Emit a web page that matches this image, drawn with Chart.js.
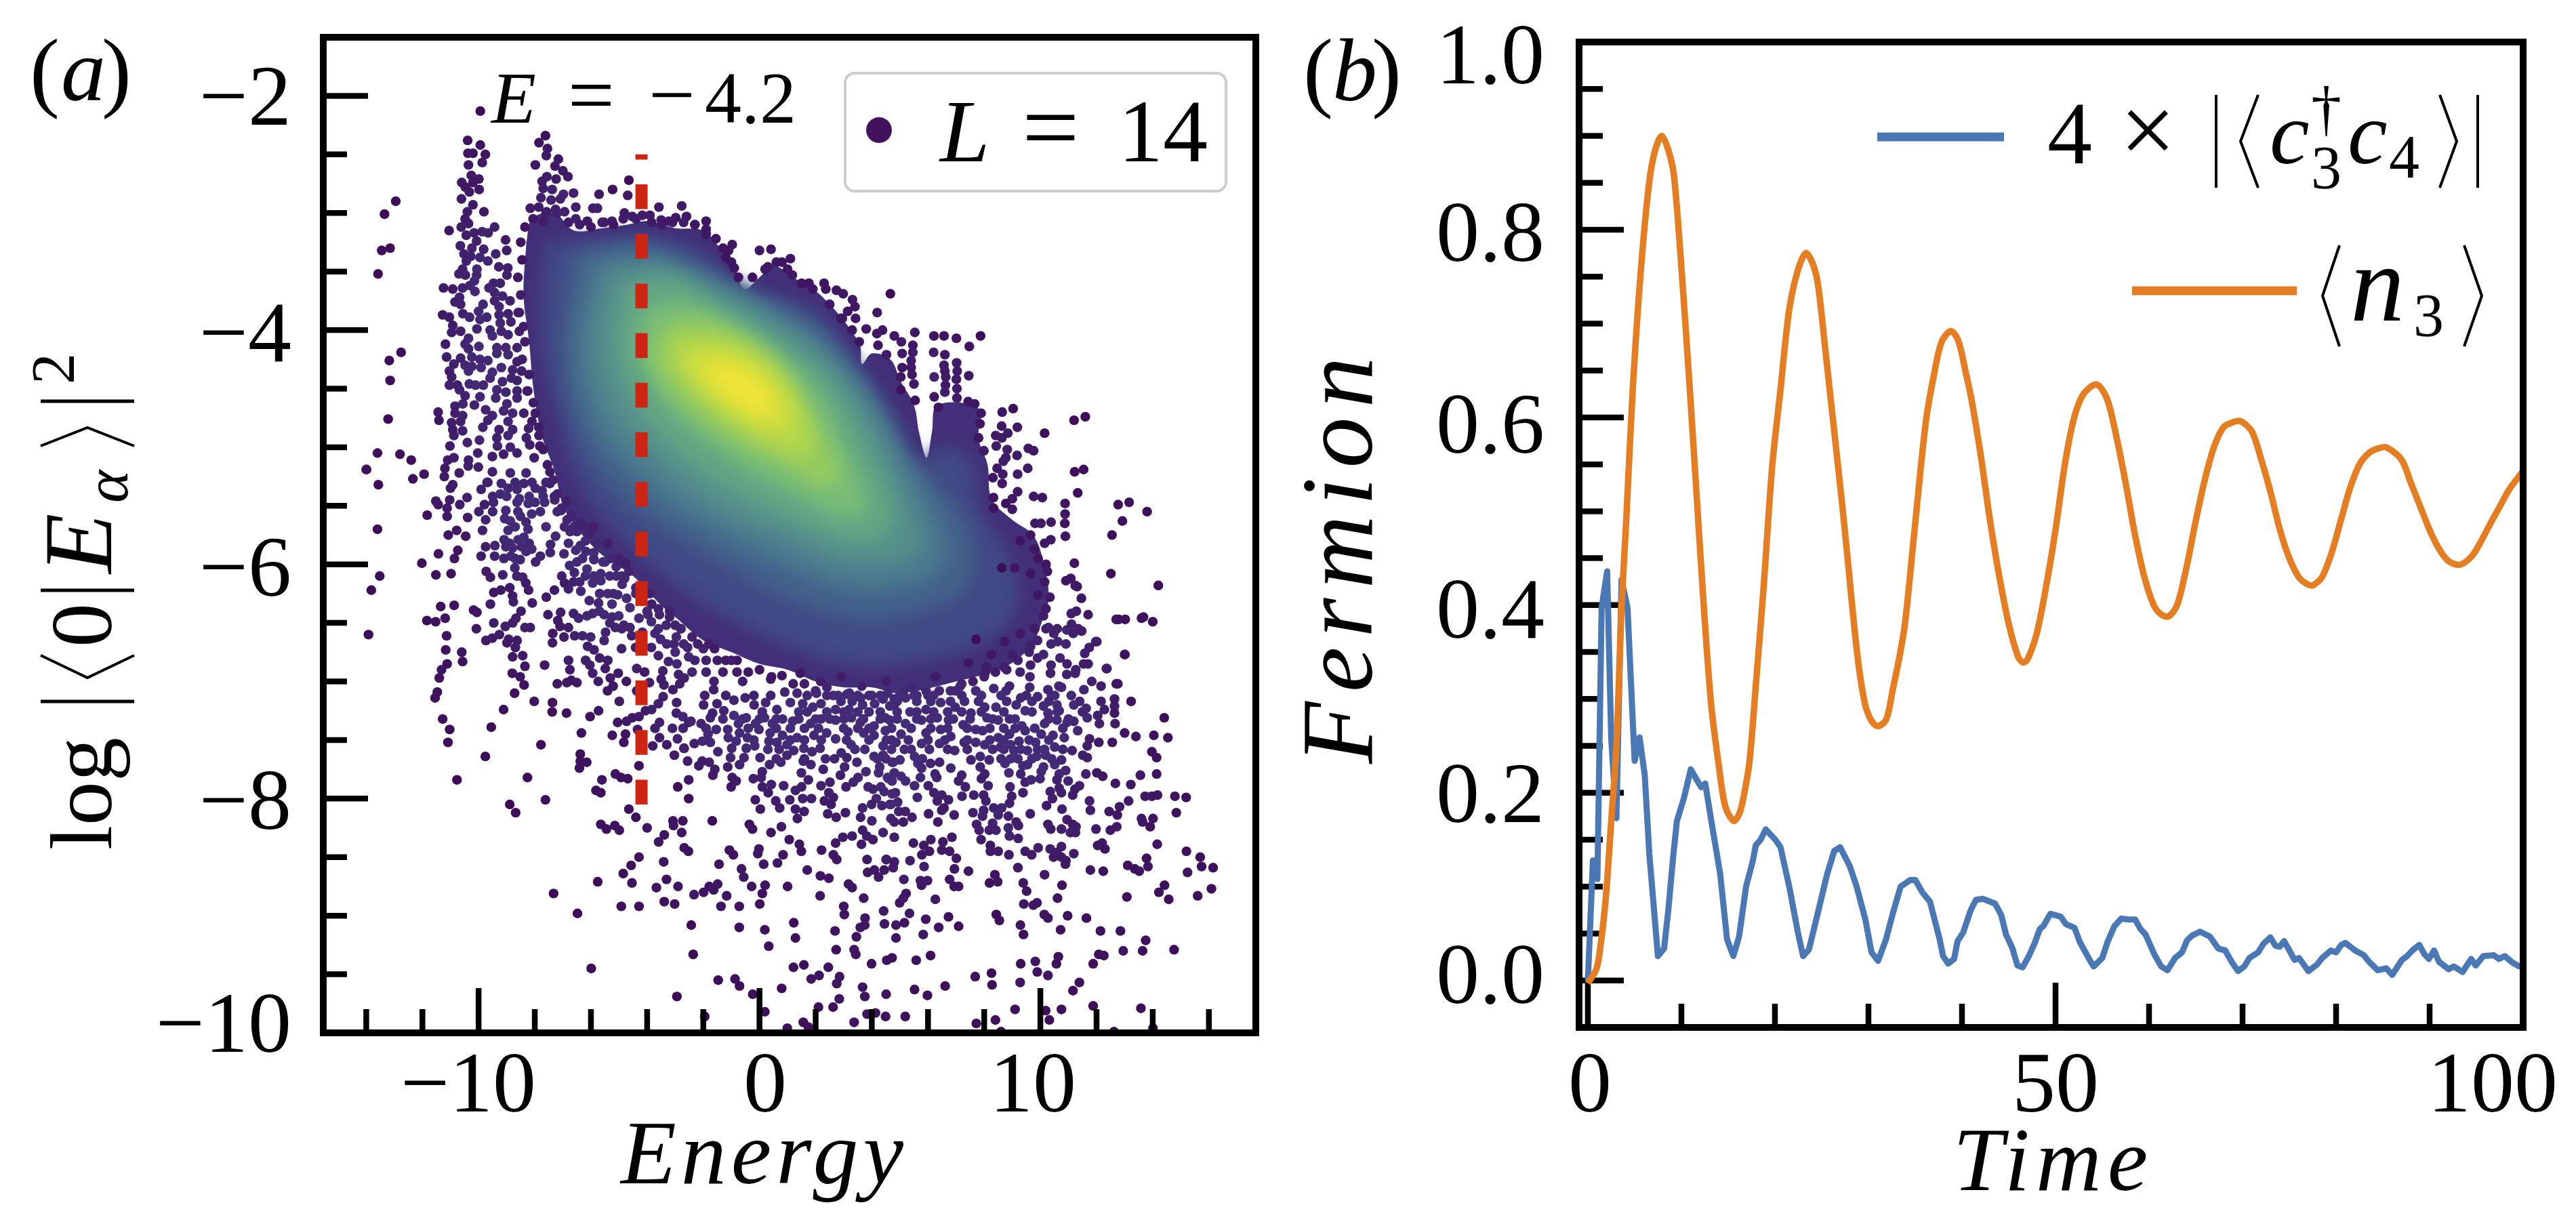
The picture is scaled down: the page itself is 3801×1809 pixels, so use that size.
<!DOCTYPE html>
<html>
<head>
<meta charset="utf-8">
<script src="https://cdn.jsdelivr.net/npm/chart.js@4"></script>
<style>
  html, body { margin: 0; background: #fff; }
  #wrap { position: relative; width: 3801px; height: 1809px; overflow: hidden; }
  canvas { position: absolute; top: 0; }
</style>
</head>
<body>
<div id="wrap">
  <canvas id="panelA" width="1900" height="1809" style="left:0"></canvas>
  <canvas id="panelB" width="1901" height="1809" style="left:1900px"></canvas>
</div>
<script>
// ---- panel (a): energy, log overlap pairs, by region
const upperLeft = [-9.94,-2.13,-12.95,-2.90,-13.35,-3.01,-13.15,-3.30,-13.45,-3.32,-13.58,-3.52,-12.76,-4.19,-13.18,-4.26,-13.15,-4.43,-13.22,-4.76,-13.6,-5.05,-12.8,-5.06,-12.4,-5.11,-14.0,-5.19,
-10.39,-2.38,-9.94,-2.42,-10.38,-2.49,-10.2,-2.49,-9.76,-2.50,-9.87,-2.57,-10.36,-2.59,-10.26,-2.68,-9.99,-2.71,-10.6,-2.74,-10.2,-2.74,-10.47,-2.78,-9.98,-2.80,-10.33,-2.82,-10.61,-2.88,-10.2,-2.93,-9.81,-2.99,-10.4,-2.99,-10.48,-3.05,-10.36,-3.09,-10.62,-3.12,-11.05,-3.15,-9.43,-3.12,-10.44,-3.19,-10.16,-3.17,-9.87,-3.16,-9.66,-3.17,-10.07,-3.24,-9.04,-3.23,-10.65,-3.28,-10.24,-3.30,-9.82,-3.31,-9.0,-3.32,-10.52,-3.35,-10.28,-3.37,-9.95,-3.38,-9.39,-3.35,-9.67,-3.41,-10.44,-3.41,-9.28,-3.46,-8.96,-3.47,-8.99,-3.53,-10.57,-3.48,-10.7,-3.52,-10.47,-3.53,-10.06,-3.48,-10.07,-3.53,-10.15,-3.58,-9.23,-3.60,-9.47,-3.60,-9.63,-3.64,-11.25,-3.64,-10.92,-3.65,-10.57,-3.64,-10.31,-3.62,-10.13,-3.67,-9.43,-3.68,-9.15,-3.71,-8.88,-3.75,-9.43,-3.75,-9.27,-3.80,-10.68,-3.72,-10.84,-3.76,-10.64,-3.78,-9.84,-3.78,-11.28,-3.87,-11.04,-3.89,-10.56,-3.86,-10.32,-3.89,-10.0,-3.84,-9.95,-3.91,-9.71,-3.89,-9.27,-3.87,-8.95,-3.86,-8.59,-3.85,-8.85,-3.93,-9.23,-3.94,-10.92,-3.96,-10.96,-4.02,-10.64,-4.01,-10.06,-3.99,-9.59,-4.0,-8.55,-4.01,-9.19,-4.01,-8.95,-4.04,-9.51,-4.05,-10.36,-4.07,-11.18,-4.12,-10.48,-4.12,-10.36,-4.16,-9.99,-4.14,-9.35,-4.15,-9.03,-4.15,-8.63,-4.15,-9.35,-4.2,-8.95,-4.21,-11.14,-4.23,-10.64,-4.24,-10.24,-4.23,-9.95,-4.25,-9.67,-4.26,-10.88,-4.29,-10.48,-4.30,-10.24,-4.31,-10.36,-4.35,-9.91,-4.32,-9.51,-4.36,-9.19,-4.32,-8.63,-4.27,-8.47,-4.35,-8.79,-4.34,-11.04,-4.35,-10.96,-4.40,-9.59,-4.41,-9.15,-4.44,-8.83,-4.41,-8.63,-4.43,-11.04,-4.47,-10.76,-4.47,-10.33,-4.46,-10.11,-4.47,-9.83,-4.47,-10.68,-4.51,-10.48,-4.56,-9.35,-4.51,-9.03,-4.53,-8.63,-4.52,-8.27,-4.52,-9.95,-4.57,-9.39,-4.58,-8.63,-4.58,-10.56,-4.63,-10.84,-4.65,-10.15,-4.64,-8.99,-4.63,-11.44,-4.70,-11.41,-4.77,-10.84,-4.71,-10.57,-4.73,-9.75,-4.68,-9.51,-4.73,-9.11,-4.69,-8.79,-4.71,-8.39,-4.71,-7.98,-4.71,-10.96,-4.79,-10.64,-4.78,-9.67,-4.77,-8.95,-4.78,-10.92,-4.85,-10.57,-4.86,-9.85,-4.83,-9.27,-4.85,-8.79,-4.85,-8.22,-4.84,-7.86,-4.83,-10.88,-4.90,-9.35,-4.92,-8.95,-4.90,-8.3,-4.92,-7.82,-4.99,-10.4,-4.96,-9.97,-4.94,-11.02,-4.99,-9.33,-4.99,-8.87,-5.0,-8.18,-4.98,-10.03,-5.05,-10.88,-5.09,-11.1,-5.11,-9.51,-5.08,-9.11,-5.06,-8.63,-5.05,-8.02,-5.09,-10.36,-5.11];

const upperFringe = [-7.62,-2.34,-7.85,-2.40,-7.55,-2.45,-7.59,-2.51,-7.98,-2.59,-7.16,-2.54,-7.28,-2.60,-7.0,-2.64,-6.82,-2.69,-7.24,-2.71,-7.57,-2.69,-7.74,-2.73,-7.7,-2.79,-7.38,-2.80,-6.98,-2.84,-6.62,-2.83,-7.78,-2.87,-7.42,-2.89,-7.09,-2.88,-8.16,-2.96,-6.54,-2.95,-7.86,-2.95,-6.94,-2.99,-7.26,-2.97,-7.58,-2.99,-6.54,-3.05,-8.06,-3.05,-7.7,-3.07,
-5.71,-2.84,-5.23,-2.80,-4.65,-2.72,-4.69,-2.85,-3.58,-2.95,-2.77,-2.94,-5.93,-2.96,-5.77,-2.96,-6.13,-3.07,-5.53,-3.08,-5.25,-3.07,-4.81,-3.0,-4.53,-3.03,-4.17,-3.02,-3.84,-3.08,-3.48,-3.1,-2.98,-3.04,-2.6,-3.03,-1.9,-3.07,-2.3,-3.10,-3.23,-3.07,-0.97,-3.27,-1.1,-3.32,-1.9,-3.18,-1.2,-3.38,-0.9,-3.47,0,-3.32,0.41,-3.31,0.8,-3.42,1.1,-3.39,0.3,-3.46,1.17,-3.53,1.76,-3.6,2.3,-3.6];

// dots that make the rough rim of the dense core
const coreRim = [-8.35,-3.12,-8.5,-3.25,-8.45,-3.4,-8.6,-3.55,-8.5,-3.7,-8.55,-3.85,-8.4,-3.97,-8.35,-4.1,-8.45,-4.25,-8.2,-4.38,-8.25,-4.52,-8.05,-4.62,-8.1,-4.78,-7.85,-4.9,-7.7,-5.02,-7.55,-5.15,-7.35,-5.28,-7.2,-5.4,-7.05,-5.52,
-6.85,-5.62,-6.5,-5.72,-6.2,-5.8,-5.9,-5.9,-5.5,-5.98,-5.1,-6.02,-4.8,-6.12,-4.4,-6.2,-4.0,-6.25,-3.6,-6.38,-3.2,-6.45,-2.8,-6.55,-2.4,-6.62,-2,-6.72,-1.6,-6.72,-1.2,-6.82,-0.8,-6.82,-0.4,-6.92,0,-6.9,0.4,-6.98,0.8,-6.95,1.2,-7.02,1.6,-7.02,2,-7.08,2.4,-7.05,2.8,-7.12,3.2,-7.1,3.6,-7.14,4,-7.12,4.4,-7.15,4.8,-7.15,5.2,-7.14,5.6,-7.12,6,-7.12,6.4,-7.08,6.8,-7.08,7.2,-7.02,7.6,-7.0,8,-6.96,8.4,-6.92,8.8,-6.9,9.2,-6.82,9.6,-6.75,9.9,-6.65,10.2,-6.55,
-7.6,-3.0,-7.2,-3.0,-6.8,-3.08,-6.4,-3.1,-6,-3.12,-5.6,-3.08,-5.2,-3.1,-4.85,-3.05,-4.4,-3.05,-3.9,-3.02,-3.5,-3.06,-3.1,-3.08,-2.7,-3.08,-2.3,-3.1,-1.9,-3.14,-1.55,-3.22,-1.3,-3.3,-1,-3.42,-0.75,-3.55,-0.25,-3.55,0.2,-3.48,0.6,-3.42,1,-3.48,1.5,-3.6,1.9,-3.65,2.5,-3.78,2.9,-3.9,3.3,-4.0,3.55,-4.1];

const lowerLeft = [-13.99,-5.19,-13.57,-5.32,-11.94,-5.23,-12.34,-5.27,-11.2,-5.18,-11.22,-5.25,-10.69,-5.22,-10.37,-5.16,-10.01,-5.17,-10.92,-5.32,-11.0,-5.35,-9.67,-5.30,-9.91,-5.36,-9.51,-5.21,-9.19,-5.31,-8.95,-5.35,-9.23,-5.40,-8.63,-5.36,-8.55,-5.44,-8.39,-5.31,-7.98,-5.35,-7.74,-5.37,-7.46,-5.31,-7.46,-5.21,-8.87,-5.22,-8.31,-5.22,
-11.52,-5.46,-11.44,-5.49,-11.03,-5.45,-11.12,-5.52,-10.67,-5.49,-10.41,-5.43,-11.12,-5.59,-11.83,-5.58,-10.39,-5.6,-9.47,-5.47,-9.79,-5.49,-9.99,-5.55,-9.75,-5.62,-9.03,-5.54,-9.07,-5.61,-8.87,-5.63,-8.63,-5.47,-8.23,-5.48,-7.99,-5.47,-8.11,-5.57,-8.51,-5.59,-8.31,-5.64,-7.65,-5.47,-7.29,-5.45,-7.06,-5.54,-6.86,-5.46,
-13.6,-5.70,-10.78,-5.71,-11.08,-5.75,-10.46,-5.76,-9.86,-5.71,-8.95,-5.71,-8.24,-5.70,-8.39,-5.77,-9.09,-5.79,-8.59,-5.79,-6.94,-5.68,-6.7,-5.58,-6.38,-5.65,-6.74,-5.72,-7.26,-5.76,-6.06,-5.74,-9.75,-5.85,-9.42,-5.84,-9.03,-5.85,-8.79,-5.86,-8.47,-5.85,-8.11,-5.87,-8.31,-5.89,-7.44,-5.83,-7.45,-5.90,-6.96,-5.91,-6.54,-5.88,-6.18,-5.89,-6.38,-5.84,
-11.43,-5.91,-10.74,-5.88,-10.86,-5.95,-9.91,-5.93,-9.43,-5.93,-8.85,-5.93,-7.8,-5.93,-7.97,-5.98,-8.52,-5.96,-12.02,-5.99,-6.76,-6.01,-6.5,-5.98,-6.59,-6.07,-6.14,-6.04,-5.89,-5.96,-5.57,-5.98,-5.65,-6.08,-5.33,-6.10,-4.77,-5.99,-4.65,-6.06,
-13.52,-6.10,-11.52,-6.09,-10.98,-6.08,-9.73,-6.06,-9.58,-6.11,-9.14,-6.09,-8.71,-6.03,-8.64,-6.10,-8.43,-6.11,-8.32,-6.16,-8.22,-6.22,-7.04,-6.10,-6.94,-6.16,-6.62,-6.15,-6.4,-6.15,-6.8,-6.21,-7.3,-6.22,-7.59,-6.28,-6.36,-6.23,-13.82,-6.22,-8.89,-6.20,-9.21,-6.22,-9.46,-6.24,-8.79,-6.27,-8.76,-6.32,-8.09,-6.33,-9.58,-6.34,
-5.94,-6.16,-5.65,-6.14,-4.89,-6.17,-5.69,-6.25,-5.05,-6.26,-6.06,-6.31,-5.73,-6.33,-5.25,-6.34,-4.73,-6.29,-4.61,-6.37,-3.84,-6.34,-11.35,-6.36,-10.87,-6.35,-10.18,-6.39,-10.06,-6.41,-8.49,-6.40,-7.53,-6.43,-7.08,-6.41,-6.62,-6.42,-6.44,-6.46,-6.14,-6.44,-5.94,-6.42,-5.53,-6.43,-5.01,-6.44,-5.25,-6.45,-4.29,-6.46,-3.97,-6.43,-3.56,-6.43,
-11.84,-6.48,-11.53,-6.49,-11.19,-6.46,-9.46,-6.50,-9.05,-6.53,-8.67,-6.46,-8.79,-6.50,-8.35,-6.54,-8.16,-6.54,-7.18,-6.48,-7.1,-6.53,-6.8,-6.54,-5.33,-6.50,-5.13,-6.54,-4.83,-6.52,-4.61,-6.54,-3.85,-6.49,-3.32,-6.52,-3.0,-6.52,
-13.92,-6.60,-10.08,-6.55,-11.14,-6.61,-9.26,-6.60,-9.51,-6.63,-9.74,-6.65,-8.93,-6.64,-8.99,-6.67,-8.63,-6.65,-7.36,-6.59,-7.37,-6.67,-6.96,-6.62,-6.58,-6.61,-6.30,-6.61,-6.01,-6.62,-5.48,-6.58,-5.53,-6.65,-4.55,-6.61,-4.17,-6.58,-3.72,-6.59,-3.52,-6.64,-2.96,-6.62,-3.04,-6.68,
-8.69,-6.71,-11.17,-6.73,-10.6,-6.75,-6.12,-6.70,-5.89,-6.73,-4.91,-6.72,-4.41,-6.71,-3.85,-6.71,-2.56,-6.71,-8.79,-6.79,-8.43,-6.78,-3.6,-6.78,-3.0,-6.75,-5.69,-6.80,-5.4,-6.82,-6.8,-6.82,-6.19,-6.82,-2.52,-6.79,-10.57,-6.83,-11.12,-6.85,-7.65,-6.86,-8.35,-6.87,-6.04,-6.86,-5.49,-6.89,-3.24,-6.83,-2.94,-6.85,-3.44,-6.91,
-11.32,-6.90,-11.4,-6.97,-8.8,-6.93,-8.52,-6.96,-6.75,-6.90,-5.94,-6.93,-5.03,-6.93,-4.37,-6.89,-4.09,-6.92,-2.88,-6.94,-5.31,-6.97,-3.5,-6.98,-2.68,-6.97,-8.38,-7.03,-7.2,-7.02,-6.86,-7.01,-6.7,-6.99,-6.5,-7.01,-5.74,-7.0,-4.74,-7.0,-3.92,-7.01,-5.21,-7.04,-3.4,-7.03,-3.08,-7.07,-2.84,-7.02,
-11.47,-7.09,-11.55,-7.14,-8.72,-7.10,-5.41,-7.08,-4.37,-7.08,-8.02,-7.17,-7.37,-7.18,-4.99,-7.17,-3.43,-7.13,-2.95,-7.18,-9.11,-7.24,-7.38,-7.26,-6.87,-7.27,-5.73,-7.25,-6.03,-7.30,-3.6,-7.19,-3.84,-7.24,-4.06,-7.25,-2.96,-7.27,-2.73,-7.30,-11.28,-7.32,-5.05,-7.35,-4.73,-7.34,-4.53,-7.31,-4.29,-7.30,-3.56,-7.35,-2.52,-7.35,
-11.03,-7.41,-9.55,-7.39,-6.34,-7.44,-4.34,-7.41,-3.72,-7.40,-3.1,-7.40,-2.72,-7.40,-11.09,-7.52,-5.24,-7.46,-4.77,-7.45,-4.83,-7.52,-2.92,-7.49,-3.56,-7.48,-3.8,-7.55,-3.3,-7.54,-7.78,-7.54,-9.76,-7.64,-2.69,-7.57,-3.03,-7.63,-6.38,-7.62,-6.38,-7.68,-6.15,-7.69,-6.41,-7.74,-4.29,-7.72,-2.56,-7.68,-10.77,-7.84,-8.26,-7.82,-5.61,-7.84,-5.13,-7.79,-4.93,-7.82,-4.69,-7.83,-2.91,-7.90,-2.52,-7.84,-5.82,-7.93,-5.65,-7.95,-7.62,-8.01,-8.89,-8.05,-2.52,-8.0,-8.68,-8.12,-4.65,-8.09,
-9.7,-5.3,-8.7,-5.3,-8.1,-5.3,-7.6,-5.3,-9.5,-5.42,-9.0,-5.42,-8.2,-5.42,-7.7,-5.42,-7.3,-5.42,-9.5,-5.55,-8.6,-5.55,-7.8,-5.55,-7.2,-5.55,-8.7,-5.68,-7.6,-5.68,-6.6,-5.68,-6.2,-5.68,-5.9,-5.68,-8.9,-5.82,-8.2,-5.82,-6.8,-5.82,-5.8,-5.82,-5.4,-5.82,-9.1,-5.95,-8.7,-5.95,-6.3,-5.95,-5.9,-5.95,-5.3,-5.95,-5.0,-5.95,-5.9,-6.1,-5.1,-6.1,-4.9,-6.1,-6.2,-6.1,-5.4,-6.25,-5.2,-6.25,-4.4,-6.25,-4.0,-6.25,-3.9,-6.25,-4.0,-6.4,-3.2,-6.4,-5.7,-6.4,-3.6,-6.55,-2.8,-6.55,-4.9,-6.55,-2.7,-6.68,-3.3,-6.68,-2.2,-6.68,-1.8,-6.68,-2.3,-6.82,-1.9,-6.82,-1.5,-6.82,-1.0,-6.82,-2.4,-6.92,-1.9,-6.92,-1.3,-6.92,-0.8,-6.92];

const lowerMiddle = [-1.62,-7.0,-0.6,-7.0,0.43,-6.96,1.45,-6.93,2.18,-7.0,2.91,-6.96,3.64,-7.04,4.52,-7.0,5.4,-7.04,6.27,-6.96,7.15,-7.04,8.03,-6.93,8.9,-7.04,9.63,-6.96,10.66,-7.04,11.24,-6.93,11.83,-7.0,10.36,-6.93,
-1.63,-7.07,-1.95,-7.12,-1.99,-7.20,-1.51,-7.19,-1.27,-7.25,-0.91,-7.16,-0.51,-7.14,-0.19,-7.2,0.22,-7.18,0.62,-7.24,1.1,-7.18,1.54,-7.19,1.34,-7.10,0.9,-7.09,2.03,-7.10,1.9,-7.22,2.19,-7.19,2.63,-7.12,3.11,-7.11,2.71,-7.24,3.19,-7.24,3.67,-7.20,4.1,-7.19,4.56,-7.10,4.64,-7.21,
-2.44,-7.34,-2.08,-7.36,-1.75,-7.31,-1.67,-7.27,-0.91,-7.29,-0.47,-7.31,-0.75,-7.36,-0.14,-7.36,0.18,-7.31,0.46,-7.36,0.82,-7.32,1.18,-7.34,1.82,-7.36,2.19,-7.32,2.71,-7.33,3.27,-7.31,3.59,-7.35,4.08,-7.38,4.48,-7.31,
-1.54,-7.41,-1.13,-7.41,-1.11,-7.48,-0.71,-7.44,-0.43,-7.48,-0.02,-7.41,0.38,-7.44,0.34,-7.51,0.82,-7.46,1.34,-7.48,1.94,-7.46,2.39,-7.44,2.71,-7.49,3.15,-7.43,3.71,-7.44,4.08,-7.46,4.48,-7.42,4.52,-7.50,
-1.83,-7.45,-2.03,-7.51,-1.75,-7.52,-2.32,-7.53,-2.68,-7.57,-0.99,-7.57,-0.83,-7.51,-0.47,-7.57,-0.17,-7.55,0.62,-7.52,0.98,-7.54,1.58,-7.57,1.87,-7.60,2.16,-7.57,3.26,-7.54,3.75,-7.58,4.4,-7.55,
-1.48,-7.60,-1.03,-7.65,-0.55,-7.65,0.02,-7.65,0.98,-7.63,1.22,-7.59,2.35,-7.66,2.91,-7.61,3.11,-7.65,2.67,-7.66,4.08,-7.64,4.4,-7.63,
-2.04,-7.68,-1.79,-7.69,-2.16,-7.72,-1.59,-7.75,-1.13,-7.73,-0.71,-7.71,0.36,-7.71,0.76,-7.69,1.56,-7.68,1.83,-7.71,2.27,-7.75,3.03,-7.73,3.47,-7.69,4.28,-7.73,4.72,-7.69,
-1.66,-7.80,0.1,-7.77,1.49,-7.78,3.79,-7.77,2.88,-7.80,4.24,-7.78,-0.97,-7.82,-0.83,-7.85,-0.22,-7.83,0.06,-7.82,1.74,-7.84,3.51,-7.82,3.34,-7.86,4.56,-7.82,
-1.01,-7.90,0.1,-7.90,0.42,-7.88,0.86,-7.89,1.5,-7.90,2.19,-7.89,2.51,-7.86,3.08,-7.90,3.87,-7.90,4.32,-7.90,4.72,-7.85,0.31,-7.95,1.28,-7.93,2.47,-7.95,4.44,-7.94,4.04,-7.92,
-0.15,-8.01,0.58,-8.02,1.08,-8.01,1.54,-8.0,1.85,-8.0,2.31,-8.02,2.63,-7.99,4.16,-8.0,4.72,-7.96,0.03,-8.09,0.72,-8.08,1.28,-8.09,1.59,-8.11,2.55,-8.05,3.99,-8.05,4.36,-8.06,4.68,-8.05,3.67,-8.08,
2.43,-8.13,2.73,-8.16,3.06,-8.12,1.35,-8.17,3.6,-8.16,4.68,-8.17,-4.4,-8.16,-5.65,-8.22,-5.45,-8.26,-5.15,-8.23,-4.99,-8.27,-4.0,-8.25,-3.08,-8.19,-2.73,-8.19,-3.06,-8.23,-1.68,-8.19,-0.36,-8.22,-0.25,-8.26,0.78,-8.24,0.41,-8.29,4.0,-8.19,
-2.77,-8.29,-3.39,-8.31,-3.59,-8.37,1.06,-8.35,2.97,-8.33,3.3,-8.32,3.67,-8.27,3.82,-8.32,4.04,-8.35,4.4,-8.29,2.71,-8.38,1.42,-8.39,1.49,-8.45,2.21,-8.44,3.63,-8.39,-2.68,-8.42,-2.53,-8.45,-1.07,-8.44,-0.93,-8.48,-0.02,-8.43,-0.06,-8.47,0.84,-8.48,2.63,-8.48,2.75,-8.52,
-4.29,-8.50,-3.41,-8.54,-1.44,-8.56,0.15,-8.56,0.64,-8.55,3.83,-8.52,4.51,-8.52,-4.57,-8.57,-0.64,-8.60,1.7,-8.61,4.44,-8.61,4.09,-8.61,-4.85,-8.64,2.17,-8.66,2.47,-8.68,3.85,-8.63,4.24,-8.67,-0.56,-8.67,-3.31,-8.69,-5.76,-8.71,-4.54,-8.72,
3.17,-8.73,3.3,-8.76,-3.67,-8.76,-2.9,-8.75,-1.49,-8.73,-1.79,-8.75,0.2,-8.74,-0.28,-8.75,1.0,-8.75,-1.99,-8.8,-1.63,-8.78,-7.33,-8.81,-2.33,-8.82,0.1,-8.81,-1.17,-8.83,2.16,-8.83,3.71,-8.85,-3.39,-8.88,-3.02,-8.90,-4.92,-8.92,-4.29,-8.92,-1.37,-8.92,-0.72,-8.92,0.01,-8.9,3.0,-8.92,3.02,-8.99,-6.48,-8.98,4.42,-8.96,
3.76,-9.02,-2.43,-9.08,-0.72,-9.10,1.22,-9.06,0.19,-9.12,2.69,-9.13,4.45,-9.07,3.59,-9.10,3.75,-9.08,1.28,-9.19,3.45,-9.18,0.33,-9.26,2.73,-9.29,3.37,-9.29,3.43,-9.33,-2.36,-9.33,-5.99,-9.45,1.58,-9.42,1.21,-9.44,2.45,-9.44,3.99,-9.41,4.53,-9.38,4.72,-9.36,
-1.47,-9.55,-0.87,-9.54,-0.71,-9.60,1.84,-9.54,2.12,-9.51,2.85,-9.52,2.75,-9.58,3.67,-9.61,0.79,-9.62,-0.24,-9.67,-2.94,-9.69,4.51,-9.67,3.75,-9.69,2.84,-9.71,2.62,-9.78,2.1,-9.78,0.19,-9.82,-1.95,-9.86,3.83,-9.84,4.13,-9.83,4.49,-9.86,1.56,-9.91,3.37,-9.91,1.74,-9.95,0.99,-9.96];

const lowerRight = [9.62,-7.05,10.27,-7.07,10.75,-7.05,11.55,-7.07,12.16,-7.04,12.76,-7.02,7.7,-7.08,8.34,-7.06,8.78,-7.08,6.97,-7.08,5.93,-7.08,5.12,-7.09,13.23,-7.17,12.64,-7.15,12.64,-7.21,12.64,-7.27,12.16,-7.17,12.28,-7.24,12.04,-7.29,11.63,-7.23,11.19,-7.2,10.59,-7.2,10.67,-7.25,10.11,-7.21,10.27,-7.27,9.46,-7.25,9.14,-7.2,9.3,-7.14,9.9,-7.13,10.51,-7.12,8.42,-7.22,8.02,-7.22,7.53,-7.27,6.97,-7.22,6.45,-7.18,5.93,-7.24,5.36,-7.26,4.8,-7.2,
14.41,-7.31,12.66,-7.36,12.1,-7.36,11.67,-7.31,10.95,-7.35,11.19,-7.34,10.59,-7.33,10.15,-7.36,9.1,-7.32,9.34,-7.38,8.5,-7.33,8.1,-7.31,7.25,-7.37,6.73,-7.33,6.33,-7.31,5.77,-7.33,5.2,-7.36,4.64,-7.33,11.33,-7.42,13.0,-7.44,13.4,-7.47,14.04,-7.46,14.54,-7.48,9.8,-7.40,9.46,-7.42,10.03,-7.45,8.9,-7.45,8.5,-7.48,7.94,-7.42,7.7,-7.41,6.45,-7.41,5.93,-7.44,5.04,-7.45,
11.75,-7.49,10.45,-7.46,10.85,-7.48,12.08,-7.52,12.56,-7.52,11.67,-7.55,9.83,-7.52,9.24,-7.51,8.94,-7.54,8.58,-7.56,8.02,-7.54,7.7,-7.52,7.29,-7.52,6.81,-7.47,6.41,-7.53,5.77,-7.53,4.86,-7.52,13.97,-7.6,14.14,-7.65,11.51,-7.63,11.67,-7.65,11.13,-7.59,10.51,-7.56,10.15,-7.58,9.54,-7.59,9.06,-7.59,6.95,-7.59,6.05,-7.58,5.16,-7.58,
7.53,-7.67,7.86,-7.64,8.18,-7.67,8.94,-7.66,9.87,-7.64,10.19,-7.63,10.75,-7.67,5.52,-7.64,5.0,-7.67,4.76,-7.69,6.41,-7.69,6.09,-7.70,5.64,-7.70,8.74,-7.70,7.86,-7.73,9.38,-7.72,9.54,-7.71,10.11,-7.73,10.51,-7.71,6.81,-7.74,5.77,-7.74,
11.62,-7.79,12.01,-7.78,12.22,-7.81,13.56,-7.80,14.14,-7.79,10.9,-7.76,10.67,-7.79,10.03,-7.77,9.3,-7.79,8.88,-7.78,8.02,-7.79,7.2,-7.80,6.25,-7.79,4.8,-7.78,5.04,-7.81,6.31,-7.82,5.73,-7.82,4.6,-7.83,5.2,-7.85,7.9,-7.83,7.09,-7.85,9.46,-7.86,9.67,-7.84,9.99,-7.83,10.59,-7.84,10.99,-7.85,11.39,-7.89,12.67,-7.87,13.22,-7.88,
5.52,-7.89,6.01,-7.89,7.33,-7.90,8.14,-7.89,8.92,-7.90,10.67,-7.91,11.23,-7.92,4.84,-7.95,5.62,-7.99,6.21,-7.95,6.49,-7.97,7.63,-7.97,7.21,-7.98,7.98,-7.97,9.38,-7.95,10.35,-7.94,8.98,-7.98,10.75,-7.95,11.15,-7.97,13.73,-7.98,13.97,-7.98,14.17,-7.97,14.79,-7.98,15.19,-7.99,11.75,-8.02,13.14,-8.02,10.43,-8.0,6.73,-8.01,6.33,-8.02,4.92,-8.03,4.64,-8.05,8.06,-8.02,8.9,-8.04,10.22,-8.06,12.82,-8.07,
6.57,-8.08,6.49,-8.10,10.77,-8.09,11.78,-8.10,12.45,-8.11,8.34,-8.08,8.62,-8.08,7.98,-8.10,4.96,-8.11,5.19,-8.11,6.02,-8.13,6.93,-8.14,7.6,-8.12,9.64,-8.13,7.94,-8.15,8.5,-8.14,8.86,-8.15,5.43,-8.16,12.74,-8.14,14.84,-8.12,13.6,-8.17,14.01,-8.17,5.12,-8.2,6.35,-8.2,4.8,-8.2,9.14,-8.2,10.95,-8.18,7.73,-8.22,8.3,-8.21,9.22,-8.23,10.27,-8.22,13.64,-8.2,11.15,-8.22,11.27,-8.24,
10.37,-8.26,10.75,-8.26,7.82,-8.27,8.18,-8.27,8.42,-8.27,8.86,-8.25,11.98,-8.26,12.72,-8.24,12.49,-8.27,13.91,-8.24,11.07,-8.29,11.25,-8.29,4.8,-8.33,6.85,-8.33,8.9,-8.32,9.21,-8.34,7.89,-8.35,6.1,-8.35,5.48,-8.38,5.85,-8.40,6.53,-8.37,14.16,-8.39,12.04,-8.40,12.2,-8.38,8.22,-8.40,10.75,-8.41,9.92,-8.42,
6.05,-8.45,6.49,-8.44,6.77,-8.45,8.5,-8.45,8.22,-8.45,8.88,-8.48,9.46,-8.45,9.69,-8.48,10.35,-8.43,12.3,-8.43,11.19,-8.47,15.2,-8.45,10.59,-8.46,5.78,-8.48,7.01,-8.51,4.52,-8.52,4.8,-8.54,5.36,-8.53,13.78,-8.51,15.69,-8.5,10.47,-8.5,10.75,-8.5,10.91,-8.53,10.89,-8.56,
5.86,-8.58,13.11,-8.57,13.83,-8.58,15.74,-8.58,16.15,-8.59,9.2,-8.59,4.76,-8.59,6.94,-8.60,7.44,-8.62,13.36,-8.60,13.52,-8.62,11.78,-8.61,12.24,-8.62,15.24,-8.63,10.15,-8.65,8.38,-8.65,5.14,-8.69,5.73,-8.70,5.98,-8.70,6.77,-8.69,8.19,-8.72,8.48,-8.71,9.39,-8.72,10.77,-8.74,14.42,-8.74,5.77,-8.74,6.93,-8.75,7.09,-8.75,
16.09,-8.77,14.22,-8.80,9.51,-8.79,5.22,-8.81,13.08,-8.84,15.6,-8.83,10.61,-8.85,5.12,-8.85,14.57,-8.86,6.26,-8.86,4.99,-8.89,9.41,-8.90,9.88,-8.89,9.75,-8.91,5.34,-8.98,8.43,-8.99,10.14,-8.99,10.97,-9.0,11.64,-9.02,10.27,-9.02,6.73,-9.01,5.92,-9.03,8.54,-9.04,
4.86,-9.08,5.16,-9.06,7.09,-9.09,6.38,-9.10,9.29,-9.08,10.72,-9.12,12.14,-9.13,12.85,-9.13,5.83,-9.16,9.4,-9.16,4.86,-9.19,13.75,-9.21,12.95,-9.30,13.64,-9.30,14.76,-9.29,12.08,-9.33,12.26,-9.34,6.09,-9.34,5.58,-9.38,10.64,-9.35,9.3,-9.41,9.82,-9.39,10.57,-9.41,11.88,-9.41,
9.89,-9.48,8.26,-9.49,10.27,-9.51,7.68,-9.52,9.28,-9.57,11.39,-9.57,8.28,-9.59,6.61,-9.60,5.52,-9.63,11.16,-9.64,5.98,-9.68,11.88,-9.77,13.58,-9.79,9.1,-9.80,10.19,-9.81,10.75,-9.80,5.19,-9.86,10.32,-9.89,8.4,-9.89,7.72,-9.92,8.6,-9.99,12.62,-9.99,14.01,-9.96];

// crowded strip under the core where single dots merge into one another
const lowerBand = [-1.2,-7.12,-0.2,-7.12,0.4,-7.12,1.7,-7.12,2.4,-7.12,3.5,-7.12,3.9,-7.12,4.3,-7.12,5.0,-7.12,5.5,-7.12,6.2,-7.12,7.2,-7.12,7.9,-7.12,8.6,-7.12,9.5,-7.12,10.4,-7.12,11.1,-7.12,
2.9,-7.17,3.3,-7.17,4.9,-7.17,5.6,-7.17,6.1,-7.17,6.8,-7.17,7.3,-7.17,7.8,-7.17,8.8,-7.17,9.7,-7.17,10.3,-7.17,11.4,-7.17,
0.1,-7.26,1.4,-7.26,1.7,-7.26,2.4,-7.26,3.0,-7.26,3.5,-7.26,3.9,-7.26,4.3,-7.26,4.9,-7.26,5.6,-7.26,6.2,-7.26,6.7,-7.26,7.2,-7.26,7.9,-7.26,8.7,-7.26,9.7,-7.26,10.6,-7.26,11.5,-7.26,
-1.3,-7.32,-0.6,-7.32,0.0,-7.32,0.6,-7.32,1.4,-7.32,2.0,-7.32,2.5,-7.32,3.0,-7.32,3.7,-7.32,4.3,-7.32,4.9,-7.32,5.6,-7.32,6.1,-7.32,6.9,-7.32,7.5,-7.32,8.3,-7.32,8.9,-7.32,10.3,-7.32,11.0,-7.32,
-1.9,-7.4,-0.4,-7.4,0.6,-7.4,1.1,-7.4,1.6,-7.4,2.1,-7.4,3.0,-7.4,3.5,-7.4,3.9,-7.4,4.7,-7.4,5.4,-7.4,6.1,-7.4,6.7,-7.4,7.4,-7.4,8.2,-7.4,8.7,-7.4,9.1,-7.4,10.8,-7.4,
-0.2,-7.5,1.1,-7.5,1.6,-7.5,2.2,-7.5,3.1,-7.5,3.9,-7.5,4.7,-7.5,5.3,-7.5,6.0,-7.5,6.6,-7.5,7.4,-7.5,8.2,-7.5,8.7,-7.5,9.6,-7.5,10.3,-7.5,
0.3,-7.58,0.7,-7.58,3.4,-7.58,4.7,-7.58,5.4,-7.58,6.7,-7.58,7.4,-7.58,8.3,-7.58,8.7,-7.58,9.3,-7.58,9.9,-7.58,10.8,-7.58,
0.6,-7.66,1.6,-7.66,4.2,-7.66,4.5,-7.66,5.8,-7.66,8.6,-7.66,9.2,-7.66,9.7,-7.66,10.4,-7.66,9.8,-6.55,10.6,-6.55,9.9,-6.8,10.7,-6.8];

const upperRight = [2.36,-3.65,2.74,-3.66,2.98,-3.69,3.31,-3.74,3.4,-3.80,3.14,-3.84,3.42,-3.90,2.95,-3.90,4.66,-3.69,4.19,-3.85,5.53,-4.02,6.21,-4.05,6.57,-4.05,7.01,-4.07,7.47,-4.14,7.87,-4.05,3.8,-3.99,4.18,-4.03,4.38,-4.0,4.8,-4.05,5.05,-4.10,4.22,-4.13,5.46,-4.13,5.46,-4.19,6.2,-4.19,6.6,-4.21,5.08,-4.2,4.52,-4.21,5.4,-4.26,7.02,-4.28,6.57,-4.30,7.04,-4.35,5.4,-4.32,5.08,-4.32,6.6,-4.35,5.43,-4.38,6.22,-4.40,6.63,-4.40,7.01,-4.42,7.45,-4.39,5.03,-4.40,5.5,-4.46,6.62,-4.47,7.03,-4.50,5.03,-4.51,6.6,-4.53,6.22,-4.57,5.54,-4.60,7.03,-4.58,7.43,-4.61,7.66,-4.63,
9.03,-4.67,8.64,-4.70,11.6,-4.74,11.2,-4.77,7.89,-4.71,6.37,-4.66,7.85,-4.80,8.62,-4.82,9.18,-4.83,10.15,-4.88,8.84,-4.88,8.41,-4.90,8.63,-4.92,7.8,-4.92,8.43,-4.99,8.82,-5.02,9.57,-5.01,9.76,-5.03,9.17,-5.07,8.77,-5.09,8.68,-5.12,7.99,-5.03,8.46,-5.18,9.55,-5.18,9.19,-5.23,11.54,-5.19,11.22,-5.21,8.66,-5.23,8.31,-5.26,8.64,-5.31,11.33,-5.39,9.19,-5.38,9.76,-5.42,10.07,-5.43,8.33,-5.43,9.0,-5.44,8.77,-5.48,
10.88,-5.48,10.88,-5.57,10.87,-5.65,10.89,-5.76,12.77,-5.49,13.16,-5.47,13.8,-5.55,12.92,-5.63,12.55,-5.75,9.81,-5.65,10.02,-5.65,10.38,-5.64,9.0,-5.53,8.33,-5.52,9.65,-5.75,10.37,-5.79,10.15,-5.82,9.78,-5.87,9.28,-5.80,11.21,-5.99,12.51,-6.08,11.08,-6.12,10.91,-6.14,11.31,-6.19,11.46,-6.29,9.92,-5.95,10.2,-6.0,10.25,-6.06,9.09,-6.03,8.63,-6.03,9.65,-6.08,10.15,-6.15,10.34,-6.28,9.92,-6.26,10.2,-6.38,10.11,-6.44,11.28,-6.40,11.70,-6.43,12.79,-6.47,13.02,-6.47,13.67,-6.45,11.11,-6.51,10.94,-6.56,11.35,-6.55,11.17,-6.59,10.29,-6.54,10.48,-6.59,10.91,-6.68,10.62,-6.66,12.01,-6.66,11.74,-6.71,11.58,-6.76,13.01,-6.77,10.95,-6.85,11.54,-6.85,11.7,-6.85,12.37,-6.89,10.94,-6.94,11.26,-6.90,10.38,-6.68,10.11,-6.77,10.38,-6.86,9.65,-6.70,9.28,-6.59,8.72,-6.66,9.0,-6.77,9.65,-6.86,8.72,-6.88,9.28,-6.92,8.26,-6.77,7.71,-6.64,8.08,-6.88,7.43,-6.84,
11.47,-6.57,11.1,-6.42,11.24,-6.18,14.2,-6.18,12.7,-6.47,13.6,-6.46,14.0,-6.49,13.0,-6.77,11.97,-6.66,12.35,-6.89,12.7,-7.02];

// dense core of the cloud: outline of each colour band as seen in the picture
const coreBands = [
  [[-8.3,-3.25],[-8.1,-3.05],[-7.3,-3.0],[-6.6,-3.15],[-5.6,-3.13],[-4.7,-3.1],[-4.0,-3.07],[-3,-3.13],[-2,-3.15],[-1.4,-3.3],[-0.9,-3.45],[-0.55,-3.65],[0,-3.55],[0.5,-3.45],[1.2,-3.55],[2.26,-3.72],[3.55,-4.11],[3.65,-4.29],[4.0,-4.2],[4.66,-4.25],[5.03,-4.44],[5.5,-4.64],[5.68,-4.87],[5.95,-5.09],[6.14,-4.87],[6.33,-4.64],[7.8,-4.67],[7.8,-4.93],[8.12,-5.15],[8.26,-5.44],[9.0,-5.62],[9.74,-5.75],[10.1,-5.97],[10.3,-6.28],[10.1,-6.46],[9.65,-6.7],[8.7,-6.88],[7,-7.0],[5,-7.1],[4,-7.05],[3,-7.05],[2,-7.0],[1,-6.9],[0,-6.85],[-1,-6.75],[-2,-6.65],[-3,-6.45],[-3.5,-6.35],[-4.5,-6.1],[-5.7,-5.9],[-6.9,-5.55],[-7.3,-5.2],[-7.75,-4.9],[-8.05,-4.5],[-8.2,-4.1],[-8.4,-3.7]],
  [[-7.6,-3.25],[-5,-3.2],[-2.5,-3.28],[-0.6,-3.62],[1.8,-3.8],[3.4,-4.25],[5,-4.8],[5.6,-5.15],[6.4,-5.0],[7.5,-5.1],[7.8,-5.5],[8.8,-5.9],[9.2,-6.3],[8.4,-6.6],[6,-6.82],[3,-6.85],[0.5,-6.65],[-1.6,-6.4],[-3.4,-6.1],[-5,-5.75],[-6.4,-5.3],[-7.2,-4.7],[-7.8,-4]],
  [[-6.7,-3.35],[-4.4,-3.25],[-2.2,-3.42],[-0.2,-3.7],[2,-3.95],[3.8,-4.45],[5.2,-5.0],[6.4,-5.35],[7.3,-5.6],[7.6,-6.0],[7.2,-6.25],[5,-6.45],[3,-6.45],[0.6,-6.25],[-1.6,-5.95],[-3.4,-5.7],[-5,-5.4],[-6.2,-5.0],[-7,-4.3]],
  [[-6,-3.42],[-4,-3.35],[-1.9,-3.55],[0.2,-3.78],[2.2,-4.1],[4,-4.6],[5.2,-5.1],[6.2,-5.5],[6.6,-5.85],[6.4,-6.05],[5,-6.2],[3,-6.2],[0.8,-6.0],[-1.4,-5.75],[-3.2,-5.5],[-4.6,-5.2],[-5.8,-4.85],[-6.5,-4.2]],
  [[-5.4,-3.5],[-3.6,-3.45],[-1.6,-3.65],[0.4,-3.9],[2.3,-4.22],[3.9,-4.7],[4.9,-5.2],[5.6,-5.6],[5.8,-5.85],[4.8,-6.0],[3,-6.0],[1,-5.8],[-1,-5.6],[-2.7,-5.35],[-4.1,-5.05],[-5.3,-4.7],[-5.9,-4.1]],
  [[-4.8,-3.62],[-3.2,-3.55],[-1.3,-3.78],[0.6,-4.05],[2.4,-4.4],[3.6,-4.85],[4.4,-5.25],[4.8,-5.6],[4.2,-5.8],[3,-5.8],[1.4,-5.65],[-0.4,-5.45],[-2.1,-5.2],[-3.6,-4.9],[-4.6,-4.55],[-5.1,-4.1]],
  [[-4.0,-3.8],[-2.7,-3.75],[-0.9,-3.95],[0.8,-4.22],[2.2,-4.55],[3.1,-5.0],[3.7,-5.35],[3.8,-5.55],[3,-5.6],[1.6,-5.45],[0,-5.25],[-1.6,-5.0],[-3.1,-4.7],[-4,-4.4],[-4.4,-4.1]],
  [[-3.4,-3.95],[-2.2,-3.9],[-0.3,-4.08],[1.1,-4.38],[2.0,-4.75],[2.7,-5.1],[2.8,-5.3],[2.0,-5.32],[0.8,-5.15],[-0.8,-4.98],[-2.3,-4.72],[-3.3,-4.48],[-3.8,-4.2]],
  [[-2.9,-4.05],[-1.6,-4.05],[0,-4.22],[1.2,-4.52],[1.8,-4.88],[1.8,-5.05],[0.9,-5.05],[-0.4,-4.88],[-1.8,-4.65],[-2.8,-4.4],[-3.2,-4.2]],
  [[-2.4,-4.18],[-1.2,-4.18],[0.1,-4.32],[1,-4.62],[1.1,-4.82],[0.2,-4.85],[-1,-4.7],[-2.1,-4.48],[-2.6,-4.3]],
  [[-1.7,-4.28],[-0.8,-4.32],[0.1,-4.47],[0.5,-4.65],[0,-4.72],[-1,-4.58],[-1.7,-4.42]]
];
const coreColors = ['#432f79','#414a85','#43628b','#4b7a8e','#558f8b','#63a584','#78bc76','#95cb5f','#b4d74b','#d3de3c','#f0e337'];

const markerLine = [[-4.2,-8.05],[-4.2,-2.5]];

const energyMajor = [-10,0,10];
const energyMinor = [-14,-12,-8,-6,-4,-2,2,4,6,8,12,14,16];
const logMajor = [-2,-4,-6,-8,-10];
const logMinor = [-2.5,-3,-3.5,-4.5,-5,-5.5,-6.5,-7,-7.5,-8.5,-9,-9.5];

// ---- panel (b): time, value pairs
const hopping = [0,0,.54,.128,1.02,.108,1.47,.397,2.06,.436,2.5,.257,3.05,.173,3.6,.427,4.24,.397,5.0,.234,5.53,.259,6.08,.219,6.57,.135,7.49,.026,8.15,.034,8.6,.075,9.15,.135,9.52,.17,10.26,.194,11.0,.225,12.11,.206,12.55,.21,13.2,.17,14.14,.114,14.88,.044,15.55,.026,16.17,.047,16.91,.1,17.65,.128,17.95,.144,18.47,.15,19.02,.161,20.05,.15,20.6,.142,21.53,.1,22.46,.051,23.01,.026,23.64,.033,24.49,.068,25.6,.114,26.34,.138,26.97,.142,28.0,.122,28.74,.1,29.67,.065,30.33,.03,31.03,.021,31.88,.044,32.62,.072,33.44,.1,34.47,.107,35.02,.107,35.76,.094,36.58,.084,37.61,.044,37.98,.026,38.54,.018,39.16,.023,39.53,.042,40.12,.051,40.94,.075,41.49,.086,42.23,.087,43.53,.082,44.19,.07,44.71,.049,45.37,.035,45.93,.016,46.48,.014,47.15,.026,47.78,.04,48.33,.055,48.7,.058,49.45,.071,50.56,.068,51.12,.06,52.04,.056,52.6,.041,53.7,.021,54.08,.015,55.0,.024,55.56,.041,56.3,.058,57.04,.066,57.78,.065,58.52,.065,59.08,.055,59.63,.049,60.56,.028,61.3,.015,61.97,.011,62.78,.024,63.52,.03,64.08,.043,64.63,.048,65.45,.052,66.49,.047,67.41,.034,68.15,.032,68.89,.019,69.52,.01,70.19,.015,70.74,.024,71.67,.03,72.22,.039,72.97,.046,73.52,.037,73.97,.036,74.45,.042,75.56,.022,76.04,.024,77.04,.01,77.96,.017,78.52,.024,79.45,.032,80.0,.03,80.56,.038,81.0,.04,82.04,.032,82.96,.027,83.52,.02,84.44,.011,85.37,.013,86.0,.006,87.04,.022,87.59,.026,88.15,.032,88.89,.038,89.44,.028,89.92,.023,90.48,.032,91.0,.02,92.04,.012,92.59,.015,93.52,.009,94.44,.023,94.93,.016,95.74,.026,96.85,.027,97.4,.023,98.03,.026,98.88,.019,99.6,.015,100,.014];
const density = [0,-.003,.9,.012,1.3,.033,1.9,.086,2.5,.17,3.05,.25,3.6,.397,4.1,.49,4.8,.63,5.65,.755,6.55,.85,7.2,.885,7.9,.9,8.6,.885,9.2,.858,10.0,.76,10.9,.63,11.8,.49,12.5,.383,13.2,.292,14,.229,14.7,.185,15.6,.17,16.2,.178,16.7,.198,17.3,.235,18,.32,18.8,.42,19.7,.547,20.6,.63,21.5,.713,22.4,.755,23.3,.775,24,.765,24.6,.742,25.4,.671,26.3,.589,27.2,.506,27.6,.467,28.8,.348,29.6,.296,30.3,.277,31,.271,31.9,.278,32.6,.31,33.3,.344,33.9,.38,34.8,.467,35.6,.547,36.2,.6,36.9,.64,37.8,.68,38.8,.692,39.6,.682,40.4,.648,41,.62,42,.56,43,.49,44,.43,45,.38,46,.345,46.5,.339,47,.342,48,.37,49,.42,50,.48,51,.55,52,.6,53,.625,54.4,.635,55.5,.62,56.5,.58,57.5,.53,58.5,.475,59.5,.43,60.5,.4,61.3,.39,62.1,.388,63,.4,64,.44,65,.49,66,.535,67,.57,68,.59,69,.595,69.8,.596,71,.585,72,.555,73,.52,74,.48,75,.45,76,.43,76.8,.423,77.5,.421,78.5,.43,79.5,.455,80.5,.49,81.5,.525,82.5,.55,83.5,.562,84.5,.567,85.4,.568,87,.555,88,.53,89,.505,90,.48,91,.46,92,.447,93.2,.443,94.5,.452,95.5,.468,96.5,.487,97.5,.505,98.5,.523,100,.543];

const timeMajor = [0,50,100];
const timeMinor = [10,20,30,40,60,70,80,90];
const fermionMajor = [0,.2,.4,.6,.8];
const fermionMinor = [.05,.1,.15,.25,.3,.35,.45,.5,.55,.65,.7,.75,.85,.9,.95];

const toPoints = flat => {
  const out = [];
  for (let i = 0; i < flat.length; i += 2) out.push({x: flat[i], y: flat[i + 1]});
  return out;
};

// colour of a dot follows how crowded its neighbourhood is
const scatterPoints = toPoints([...upperLeft, ...upperFringe, ...coreRim, ...lowerLeft, ...lowerMiddle, ...lowerRight, ...lowerBand, ...upperRight]);
const scatterColors = scatterPoints.map(p => {
  let n = 0;
  for (const q of scatterPoints) {
    const dx = (p.x - q.x) / 1.2, dy = (p.y - q.y) / 0.25;
    if (dx * dx + dy * dy < 1) n++;
  }
  const t = Math.min(1, n / 30);
  return `rgb(${Math.round(61 + 6 * t)},${Math.round(11 + 32 * t)},${Math.round(87 + 32 * t)})`;
});

const SERIF = '"Liberation Serif"';
function text(ctx, str, x, y, size, italic, align) {
  ctx.font = `${italic ? 'italic ' : ''}${size}px ${SERIF}`;
  ctx.textAlign = align || 'left';
  ctx.textBaseline = 'alphabetic';
  ctx.fillStyle = '#000';
  ctx.fillText(str, x, y);
}
function textUp(ctx, str, x, y, size, italic) {
  ctx.save();
  ctx.translate(x, y);
  ctx.rotate(-Math.PI / 2);
  text(ctx, str, 0, 0, size, italic);
  ctx.restore();
}
function seg(ctx, x1, y1, x2, y2, w, color) {
  ctx.strokeStyle = color || '#000';
  ctx.lineWidth = w;
  ctx.lineCap = 'butt';
  ctx.beginPath(); ctx.moveTo(x1, y1); ctx.lineTo(x2, y2); ctx.stroke();
}
// angle bracket, tip at (tx, midY)
function bracket(ctx, tx, bx, y1, y2) {
  ctx.strokeStyle = '#000';
  ctx.lineWidth = 4;
  ctx.lineJoin = 'miter';
  ctx.beginPath(); ctx.moveTo(bx, y1); ctx.lineTo(tx, (y1 + y2) / 2); ctx.lineTo(bx, y2); ctx.stroke();
}
function bracketUp(ctx, ty, by, x1, x2) {
  ctx.strokeStyle = '#000';
  ctx.lineWidth = 4;
  ctx.beginPath(); ctx.moveTo(x1, by); ctx.lineTo((x1 + x2) / 2, ty); ctx.lineTo(x2, by); ctx.stroke();
}
function drawTicks(chart, xs, xMajor, xMinor, ys, yMajor, yMinor) {
  const ctx = chart.ctx, a = chart.chartArea;
  const tw = 8.5;
  xMajor.forEach(v => { const p = xs.getPixelForValue(v); seg(ctx, p, a.bottom, p, a.bottom - 66, tw); });
  xMinor.forEach(v => { const p = xs.getPixelForValue(v); seg(ctx, p, a.bottom, p, a.bottom - 35, tw); });
  yMajor.forEach(v => { const p = ys.getPixelForValue(v); seg(ctx, a.left, p, a.left + 66, p, tw); });
  yMinor.forEach(v => { const p = ys.getPixelForValue(v); seg(ctx, a.left, p, a.left + 35, p, tw); });
}
function drawFrame(chart) {
  const ctx = chart.ctx, a = chart.chartArea;
  ctx.strokeStyle = '#000';
  ctx.lineWidth = 10;
  ctx.lineJoin = 'miter';
  ctx.strokeRect(a.left, a.top, a.right - a.left, a.bottom - a.top);
}

const baseScale = (min, max, pad) => ({
  type: 'linear', min, max,
  grid: {display: false}, border: {display: false},
  ticks: {display: false},
  afterFit: s => { if (s.isHorizontal()) s.height = pad; else s.width = pad; }
});

const lastBand = 'band' + (coreBands.length - 1);
const panelAPlugin = {
  id: 'panelA',
  // the first band keeps its hard edge, the inner ones melt into each other
  afterDatasetDraw(chart, args) {
    const label = chart.data.datasets[args.index].label;
    if (label === 'band0') chart.ctx.filter = 'blur(12px)';
    if (label === lastBand) chart.ctx.filter = 'none';
  },
  afterDatasetsDraw(chart) {
    const ctx = chart.ctx, xs = chart.scales.x, ys = chart.scales.y;
    ctx.save();
    drawTicks(chart, xs, energyMajor, energyMinor, ys, logMajor, logMinor);
    drawFrame(chart);

    // tick labels
    const yOff = {'-2': 43, '-4': 46, '-6': 46, '-8': 45, '-10': 28};
    logMajor.forEach(v => text(ctx, '\u2212' + Math.abs(v), 430, ys.getPixelForValue(v) + yOff[v], 128, false, 'right'));
    text(ctx, '\u221210', 691, 1640, 128, false, 'center');
    text(ctx, '0', 1129, 1640, 128, false, 'center');
    text(ctx, '10', 1524, 1640, 128, false, 'center');

    // axis labels
    ctx.letterSpacing = '7px';
    text(ctx, 'Energy', 1128, 1746, 134, true, 'center');
    ctx.letterSpacing = '0px';
    textUp(ctx, 'log', 164, 1254, 130);
    seg(ctx, 60, 1035, 198, 1035, 5);
    bracketUp(ctx, 1000, 967, 60, 198);
    textUp(ctx, '0', 164, 955, 130);
    seg(ctx, 60, 871, 198, 871, 5);
    textUp(ctx, 'E', 164, 846, 145, true);
    textUp(ctx, '\u03b1', 188, 742, 92, true);
    bracketUp(ctx, 631, 658, 60, 198);
    seg(ctx, 60, 592, 198, 592, 5);
    textUp(ctx, '2', 109, 567, 92);

    // panel letter and the energy note
    text(ctx, '(', 44, 148, 132);
    text(ctx, 'a', 90, 148, 132, true);
    text(ctx, ')', 150, 148, 132);
    text(ctx, 'E', 725, 181, 108, true);
    text(ctx, '=', 838, 181, 122);
    text(ctx, '\u2212', 957, 181, 122);
    text(ctx, '4.2', 1040, 181, 108);

    // legend box
    ctx.beginPath();
    ctx.roundRect(1247, 108, 562, 174, 14);
    ctx.fillStyle = 'rgba(255,255,255,0.8)';
    ctx.fill();
    ctx.strokeStyle = '#cccccc';
    ctx.lineWidth = 4;
    ctx.stroke();
    ctx.beginPath();
    ctx.arc(1297, 192, 19, 0, Math.PI * 2);
    ctx.fillStyle = '#43125f';
    ctx.fill();
    text(ctx, 'L', 1387, 238, 132, true);
    text(ctx, '=', 1508, 238, 150);
    text(ctx, '14', 1650, 238, 132);
    ctx.restore();
  }
};

const panelBPlugin = {
  id: 'panelB',
  beforeDatasetsDraw(chart) {
    const ctx = chart.ctx;
    ctx.save();
    drawTicks(chart, chart.scales.x, timeMajor, timeMinor, chart.scales.y, fermionMajor, fermionMinor);
    ctx.restore();
  },
  afterDatasetsDraw(chart) {
    const ctx = chart.ctx, ys = chart.scales.y;
    ctx.save();
    drawFrame(chart);
    ctx.translate(-1900, 0);   // page coordinates below

    const yOff = {0: 33, .2: 43, .4: 48, .6: 52, .8: 46};
    fermionMajor.forEach(v => text(ctx, v.toFixed(1), 2279, ys.getPixelForValue(v) + yOff[v], 128, false, 'right'));
    text(ctx, '1.0', 2279, 123, 128, false, 'right');
    text(ctx, '0', 2346, 1640, 128, false, 'center');
    text(ctx, '50', 3033, 1640, 128, false, 'center');
    text(ctx, '100', 3678, 1640, 128, false, 'center');

    ctx.letterSpacing = '9px';
    text(ctx, 'Time', 3030, 1756, 134, true, 'center');
    ctx.letterSpacing = '14px';
    textUp(ctx, 'Fermion', 2024, 1127, 150, true);
    ctx.letterSpacing = '0px';

    text(ctx, '(', 1923, 148, 132);
    text(ctx, 'b', 1966, 148, 132, true);
    text(ctx, ')', 2024, 148, 132);

    // legend
    seg(ctx, 2770, 202, 2957, 202, 13, '#4a78b5');
    text(ctx, '4', 3021, 241, 132);
    text(ctx, '\u00d7', 3128, 241, 146);
    seg(ctx, 3270, 140, 3270, 277, 4);
    bracket(ctx, 3306, 3332, 140, 277);
    text(ctx, 'c', 3349, 241, 132, true);
    text(ctx, '\u2020', 3410, 190, 90);
    text(ctx, '3', 3410, 278, 90);
    text(ctx, 'c', 3464, 241, 132, true);
    text(ctx, '4', 3525, 262, 90);
    bracket(ctx, 3625, 3600, 140, 277);
    seg(ctx, 3656, 140, 3656, 277, 4);

    seg(ctx, 3146, 429, 3389, 429, 13, '#e57e22');
    bracket(ctx, 3427, 3452, 362, 511);
    text(ctx, 'n', 3468, 473, 160, true);
    text(ctx, '3', 3561, 496, 90);
    bracket(ctx, 3662, 3636, 362, 511);
    ctx.restore();
  }
};

new Chart(document.getElementById('panelA'), {
  type: 'scatter',
  data: {
    datasets: [
      {label: 'marker', data: markerLine.map(p => ({x: p[0], y: p[1]})), showLine: true, borderColor: '#cc2514',
       borderWidth: 18, borderDash: [36.6, 36.6], borderCapStyle: 'butt', pointRadius: 0, order: 1},
      {label: 'L = 14', data: scatterPoints, pointRadius: 7.2, pointBorderWidth: 0,
       pointBackgroundColor: scatterColors, showLine: false, order: 2},
      ...coreBands.map((band, i) => ({
        label: 'band' + i,
        data: [...band, band[0]].map(p => ({x: p[0], y: p[1]})),
        showLine: true, fill: 'shape', tension: 0.35, backgroundColor: coreColors[i],
        borderWidth: 0, pointRadius: 0, order: 100 - i
      }))
    ]
  },
  options: {
    responsive: false, animation: false, events: [],
    layout: {padding: {top: 55, right: 47, left: 0, bottom: 0}},
    plugins: {legend: {display: false}, tooltip: {enabled: false}},
    scales: {
      x: baseScale(-15.53, 17.67, 285),
      y: baseScale(-10, -1.5, 477)
    }
  },
  plugins: [panelAPlugin]
});

new Chart(document.getElementById('panelB'), {
  type: 'line',
  data: {
    datasets: [
      {label: 'hopping', data: toPoints(hopping), borderColor: '#4a78b5', borderWidth: 9, pointRadius: 0, borderJoinStyle: 'round', order: 2},
      {label: 'density', data: toPoints(density), borderColor: '#e57e22', borderWidth: 9.5, pointRadius: 0, borderJoinStyle: 'round', tension: 0.3, order: 1}
    ]
  },
  options: {
    responsive: false, animation: false, events: [],
    parsing: false,
    layout: {padding: {top: 62, right: 1901 - (3723 - 1900), left: 0, bottom: 0}},
    plugins: {legend: {display: false}, tooltip: {enabled: false}},
    scales: {
      x: baseScale(-0.94, 100, 1809 - 1516),
      y: baseScale(-0.05, 1.0, 2330 - 1900)
    }
  },
  plugins: [panelBPlugin]
});
</script>
</body>
</html>
